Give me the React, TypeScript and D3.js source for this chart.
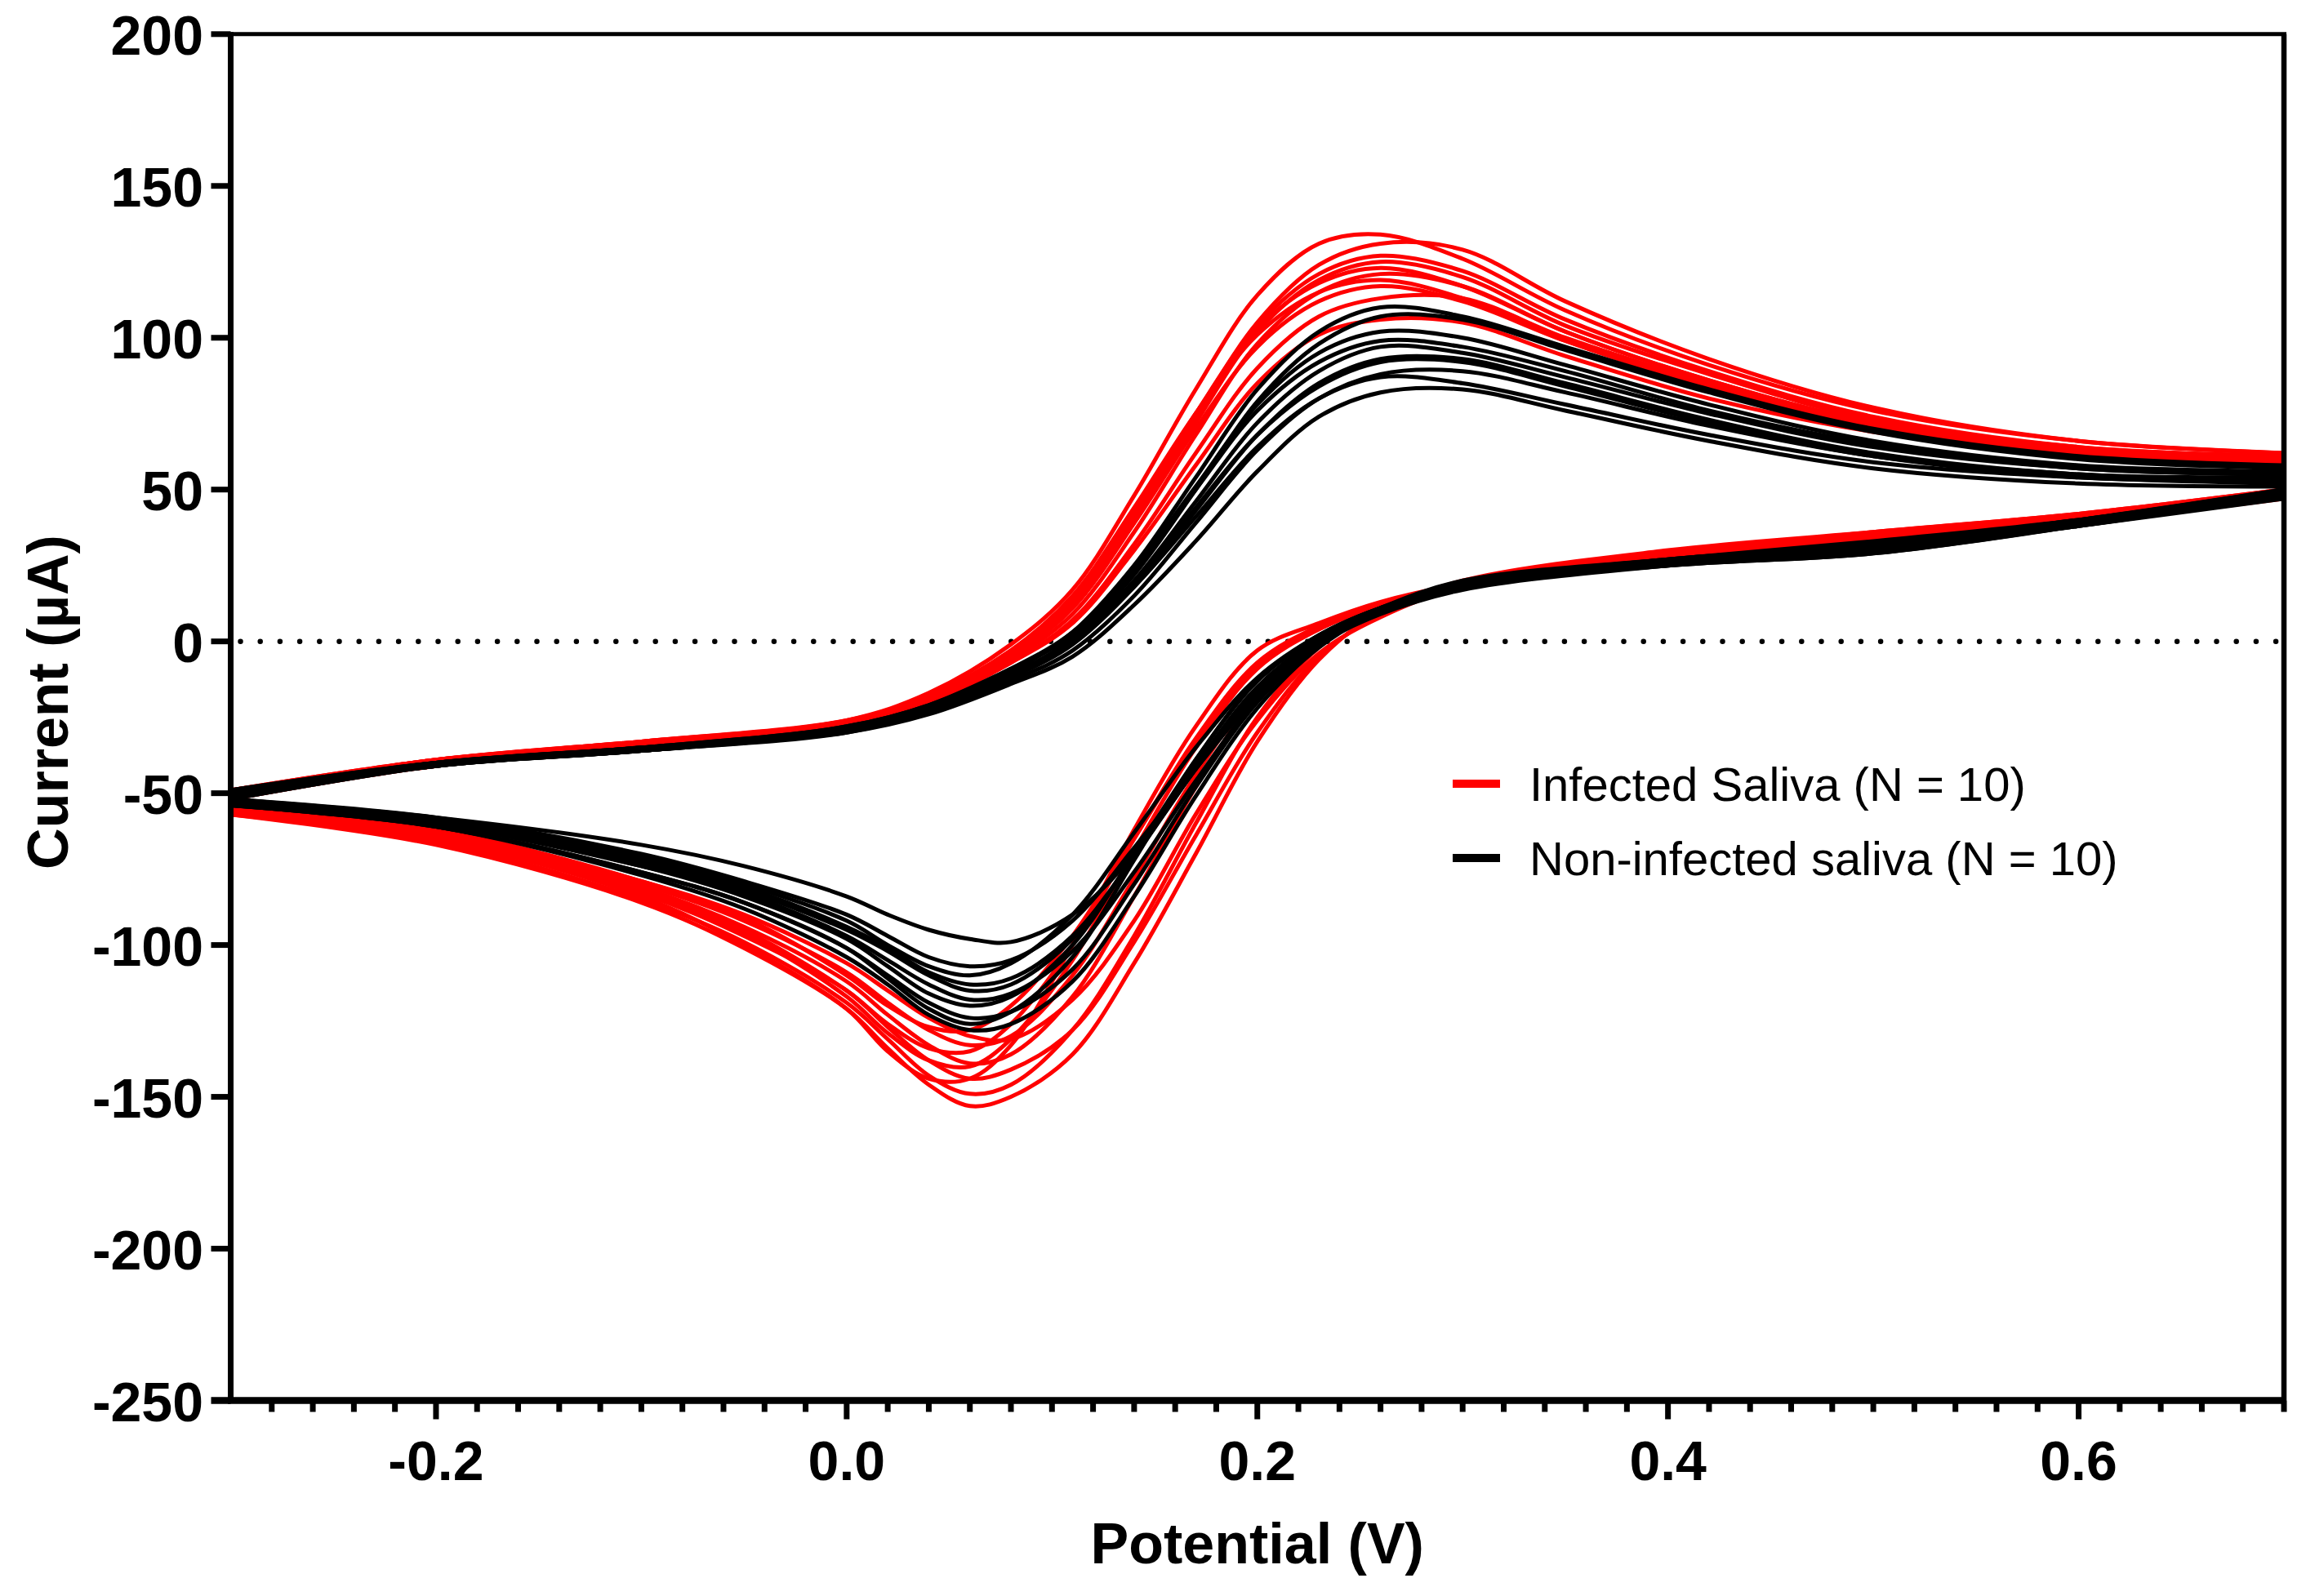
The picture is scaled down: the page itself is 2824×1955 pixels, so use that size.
import React from 'react';
import * as d3 from 'd3';

// Potential grid of the forward (anodic) scan and of the reverse (cathodic) scan, V
const FWD_E = [-0.3, -0.2, -0.1, 0.0, 0.04, 0.08, 0.11, 0.14, 0.17, 0.20, 0.23, 0.26, 0.30, 0.35, 0.42, 0.50, 0.60, 0.70];
const REV_E = [0.70, 0.60, 0.50, 0.40, 0.30, 0.26, 0.23, 0.20, 0.17, 0.14, 0.11, 0.08, 0.06, 0.04, 0.02, 0.0, -0.05, -0.10, -0.20, -0.30];

// Infected saliva: current (µA)
const RED_FWD = [
  [-50, -39, -33, -26, -17, -1, 17, 48, 83, 114, 131, 134, 126, 109, 91, 76, 66, 62],
  [-51, -40, -34, -27, -19, -5, 11, 40, 74, 105, 124, 131, 129, 112, 93, 77, 66, 62],
  [-49, -39, -33, -27, -19, -4, 13, 42, 75, 104, 121, 127, 122, 106, 89, 74, 64, 61],
  [-50, -40, -34, -27, -18, -3, 14, 43, 75, 103, 118, 123, 117, 102, 86, 72, 63, 60],
  [-52, -41, -35, -28, -20, -6, 9, 36, 68, 98, 115, 121, 117, 102, 86, 72, 63, 60],
  [-50, -40, -34, -27, -19, -4, 12, 39, 70, 97, 112, 117, 112, 99, 84, 71, 62, 60],
  [-51, -40, -35, -28, -20, -7, 7, 32, 62, 90, 107, 113, 113, 100, 85, 71, 62, 59],
  [-50, -39, -34, -28, -20, -7, 6, 30, 58, 85, 101, 106, 105, 94, 80, 69, 61, 59],
  [-49, -39, -33, -26, -18, -3, 15, 44, 75, 101, 115, 119, 113, 99, 84, 71, 62, 60],
  [-51, -40, -34, -27, -19, -5, 11, 39, 72, 102, 119, 125, 120, 104, 88, 73, 64, 61],
];
// Infected saliva: current (µA)
const RED_REV = [
  [50, 42, 36, 30, 20, 10, -6, -33, -70, -106, -136, -150, -153, -146, -134, -121, -101, -86, -67, -57],
  [49, 41, 35, 29, 19, 11, -2, -25, -60, -97, -128, -146, -149, -143, -131, -119, -99, -85, -66, -57],
  [49, 41, 35, 28, 19, 13, 6, -3, -28, -62, -100, -133, -144, -144, -135, -121, -100, -84, -65, -56],
  [50, 42, 36, 29, 19, 9, -5, -30, -64, -99, -128, -141, -144, -138, -127, -115, -97, -83, -65, -56],
  [48, 40, 34, 28, 19, 12, 4, -9, -35, -69, -105, -131, -140, -138, -129, -117, -96, -82, -64, -56],
  [49, 41, 35, 29, 19, 10, 0, -18, -48, -84, -117, -136, -139, -133, -123, -112, -94, -81, -63, -55],
  [48, 40, 34, 28, 18, 12, 5, -7, -32, -65, -100, -126, -135, -134, -126, -115, -95, -81, -63, -55],
  [49, 41, 35, 28, 18, 8, -4, -26, -57, -92, -118, -131, -130, -124, -115, -106, -90, -79, -62, -55],
  [48, 40, 34, 28, 18, 10, 1, -16, -44, -78, -110, -130, -133, -128, -119, -109, -92, -80, -63, -55],
  [47, 39, 33, 27, 18, 12, 4, -8, -33, -65, -97, -120, -128, -127, -120, -110, -91, -79, -62, -54],
];

// Non-infected saliva: forward scan
const BLACK_FWD = [
  [-50, -40, -35, -29, -22, -10, 3, 25, 54, 83, 102, 110, 107, 97, 83, 70, 61, 58],
  [-52, -41, -36, -29, -22, -11, 1, 22, 50, 79, 98, 107, 106, 96, 82, 69, 60, 57],
  [-49, -40, -35, -28, -21, -9, 3, 24, 51, 78, 95, 102, 100, 91, 78, 66, 58, 56],
  [-51, -41, -36, -29, -22, -11, 0, 20, 46, 72, 89, 97, 95, 87, 75, 64, 57, 55],
  [-50, -40, -36, -29, -23, -12, -1, 18, 43, 68, 85, 93, 93, 85, 73, 62, 55, 54],
  [-52, -41, -36, -30, -23, -13, -3, 15, 39, 63, 80, 88, 89, 82, 71, 61, 54, 53],
  [-49, -40, -35, -29, -22, -11, 0, 18, 41, 64, 80, 87, 85, 78, 68, 59, 54, 52],
  [-51, -41, -36, -30, -24, -14, -5, 12, 33, 56, 74, 82, 83, 76, 66, 57, 52, 51],
  [-50, -40, -35, -28, -21, -9, 2, 23, 50, 76, 92, 99, 97, 89, 76, 65, 57, 55],
  [-51, -41, -36, -29, -22, -11, 0, 19, 44, 68, 84, 92, 92, 84, 72, 61, 55, 53],
];
// Non-infected saliva: reverse scan
const BLACK_REV = [
  [49, 40, 32, 27, 19, 10, -2, -22, -51, -84, -112, -126, -128, -123, -113, -104, -88, -77, -61, -54],
  [50, 40, 32, 27, 19, 11, 2, -13, -39, -72, -104, -122, -126, -121, -111, -101, -86, -76, -61, -54],
  [48, 39, 31, 26, 18, 10, -1, -19, -46, -76, -102, -116, -118, -113, -105, -97, -83, -74, -60, -53],
  [49, 39, 31, 26, 18, 11, 2, -13, -39, -70, -100, -117, -120, -116, -107, -98, -84, -74, -60, -53],
  [48, 38, 29, 25, 18, 10, 0, -17, -42, -71, -97, -111, -113, -109, -101, -94, -81, -72, -59, -53],
  [47, 38, 29, 25, 18, 11, 2, -12, -35, -63, -90, -106, -110, -107, -100, -92, -80, -71, -59, -52],
  [48, 38, 30, 25, 17, 9, -1, -18, -42, -68, -92, -105, -107, -104, -97, -90, -79, -70, -58, -52],
  [50, 40, 33, 27, 20, 11, 1, -16, -42, -70, -90, -99, -98, -95, -90, -84, -74, -67, -58, -52],
  [49, 39, 31, 26, 18, 11, 1, -15, -41, -71, -98, -113, -115, -110, -102, -95, -82, -73, -60, -53],
  [48, 39, 31, 26, 18, 10, -1, -20, -48, -80, -108, -122, -124, -119, -110, -101, -86, -76, -61, -54],
];

const Y_TICKS = [200, 150, 100, 50, 0, -50, -100, -150, -200, -250];
const X_MAJOR = [-0.2, 0.0, 0.2, 0.4, 0.6];
const X_MINOR_COUNT = 50; // one minor tick every 0.02 V from -0.3 to 0.7

const SERIES = [
  { name: 'Infected Saliva (N = 10)', color: '#ff0000', fwd: RED_FWD, rev: RED_REV },
  { name: 'Non-infected saliva (N = 10)', color: '#000000', fwd: BLACK_FWD, rev: BLACK_REV },
];

const FONT = '"Liberation Sans", Arial, Helvetica, sans-serif';

export default function App() {
  const W = 2824;
  const H = 1955;
  const x = d3.scaleLinear().domain([-0.3, 0.7]).range([282.5, 2797]);
  const y = d3.scaleLinear().domain([-250, 200]).range([1715.5, 41.8]);
  const x0 = x(-0.3), x1 = x(0.7), yTop = y(200), yBot = y(-250);

  const branch = d3
    .line<[number, number]>()
    .x((d) => x(d[0]))
    .y((d) => y(d[1]))
    .curve(d3.curveCatmullRom.alpha(0.5));

  const loopPath = (f: number[], r: number[]): string => {
    const fwd = branch(FWD_E.map((e, i) => [e, f[i]] as [number, number])) || '';
    const rev = branch(REV_E.map((e, i) => [e, r[i]] as [number, number])) || '';
    return fwd + rev.replace(/^M/, 'L') + 'Z';
  };

  const minors = d3
    .range(1, X_MINOR_COUNT + 1)
    .map((i) => -0.3 + i * 0.02)
    .filter((v) => !X_MAJOR.some((m) => Math.abs(m - v) < 1e-6));

  return (
    <svg
      width={W}
      height={H}
      viewBox={`0 0 ${W} ${H}`}
      style={{ position: 'absolute', left: 0, top: 0, background: '#fff' }}
    >
      <rect x={0} y={0} width={W} height={H} fill="#fff" />
      <defs>
        <clipPath id="plot">
          <rect x={x0} y={yTop} width={x1 - x0} height={yBot - yTop} />
        </clipPath>
      </defs>

      {/* zero line */}
      <line
        x1={x0 + 12}
        x2={x1}
        y1={y(0)}
        y2={y(0)}
        stroke="#000"
        strokeWidth={6.5}
        strokeLinecap="round"
        strokeDasharray="0 24.2"
      />

      {/* curves */}
      <g clipPath="url(#plot)" fill="none" strokeLinejoin="round">
        {SERIES.map((s) => (
          <g key={s.name} stroke={s.color} strokeWidth={5}>
            {s.fwd.map((f, i) => (
              <path key={i} d={loopPath(f, s.rev[i])} />
            ))}
          </g>
        ))}
      </g>

      {/* frame */}
      <line x1={x0} x2={x1 + 3} y1={yTop} y2={yTop} stroke="#000" strokeWidth={5} />
      <line x1={x1} x2={x1} y1={yTop} y2={yBot} stroke="#000" strokeWidth={6.5} />
      <line x1={x0} x2={x0} y1={yTop - 2.5} y2={yBot} stroke="#000" strokeWidth={7} />
      <line x1={x0 - 3.5} x2={x1 + 3} y1={yBot} y2={yBot} stroke="#000" strokeWidth={8.5} />

      {/* y ticks */}
      {Y_TICKS.map((v) => (
        <g key={v}>
          <line x1={x0 - 24} x2={x0} y1={y(v)} y2={y(v)} stroke="#000" strokeWidth={v === -250 ? 8.5 : 7} />
          <text
            x={249}
            y={y(v) + 25}
            textAnchor="end"
            fontFamily={FONT}
            fontWeight="bold"
            fontSize={68}
            fill="#000"
          >
            {String(v)}
          </text>
        </g>
      ))}

      {/* x ticks */}
      {minors.map((v, i) => (
        <line key={i} x1={x(v)} x2={x(v)} y1={yBot} y2={yBot + 14} stroke="#000" strokeWidth={7} />
      ))}
      {X_MAJOR.map((v) => (
        <g key={v}>
          <line x1={x(v)} x2={x(v)} y1={yBot} y2={yBot + 23} stroke="#000" strokeWidth={7} />
          <text
            x={x(v)}
            y={1813}
            textAnchor="middle"
            fontFamily={FONT}
            fontWeight="bold"
            fontSize={68}
            fill="#000"
          >
            {v.toFixed(1)}
          </text>
        </g>
      ))}

      {/* axis titles */}
      <text
        x={(x0 + x1) / 2}
        y={1915}
        textAnchor="middle"
        fontFamily={FONT}
        fontWeight="bold"
        fontSize={70}
        fill="#000"
      >
        Potential (V)
      </text>
      <text
        transform={`translate(83, 860) rotate(-90)`}
        textAnchor="middle"
        fontFamily={FONT}
        fontWeight="bold"
        fontSize={70}
        fill="#000"
      >
        Current (µA)
      </text>

      {/* legend */}
      {SERIES.map((s, i) => (
        <g key={s.name} transform={`translate(0, ${i * 91})`}>
          <line x1={1779} x2={1837} y1={960} y2={960} stroke={s.color} strokeWidth={10} />
          <text x={1873} y={981} fontFamily={FONT} fontSize={58} fill="#000">
            {s.name}
          </text>
        </g>
      ))}
    </svg>
  );
}
